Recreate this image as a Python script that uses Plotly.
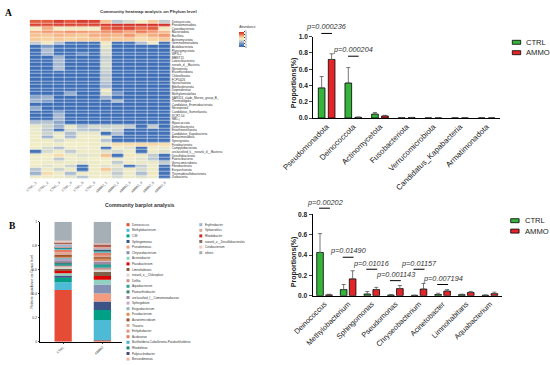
import plotly.graph_objects as go
import numpy as np

W, H = 550, 365
FONT = "Liberation Sans, Arial, sans-serif"


def fx(x):
    return x / W


def fy(y):
    return 1 - y / H


# ---------------- Panel A: heatmap data ----------------
heat_cols = ["CTRL_1", "CTRL_2", "CTRL_3", "CTRL_4", "CTRL_5", "CTRL_6",
             "AMMO_1", "AMMO_2", "AMMO_3", "AMMO_4", "AMMO_5", "AMMO_6"]
heat_rows = [
    "Deinococcota", "Pseudomonadota", "Cyanobacteriota", "Bacteroidota", "Bacillota",
    "Actinomycetota", "Gemmatimonadota", "Acidobacteriota", "Planctomycetota", "WPS-2",
    "MBNT15", "Latescibacterota", "norank_d__Bacteria", "Nitrospirota", "Elusimicrobiota",
    "Chloroflexota", "FCPU426", "Spirochaetota", "Bdellovibrionota", "Dependentiae",
    "Methylomirabilota", "SAR324_clade_Marine_group_B_", "Thermotogota",
    "Candidatus_Eremiobacteriota", "Nitrospinota", "Candidatus_Sumerlaeota", "RCP2-54",
    "NB1-j", "Myxococcota", "Deferribacterota", "Entotheonellaeota",
    "Candidatus_Kapabacteria", "Armatimonadota", "Synergistota", "Fusobacteriota",
    "Campylobacterota", "unclassified_k__norank_d__Bacteria", "Desulfobacterota",
    "Patescibacteria", "Verrucomicrobiota", "Fibrobacterota", "Euryarchaeota",
    "Thermodesulfobacteriota", "Zixibacteria",
]
heat_vals = [
    [4.4, 4.4, 4.8, 4.5, 4.8, 4.7, 3.4, 1.9, 2.2, 2.7, 3.3, 2.0],
    [4.7, 4.6, 4.7, 4.7, 4.6, 4.7, 4.8, 4.9, 4.9, 4.9, 4.9, 4.9],
    [2.7, 3.6, 2.7, 2.8, 2.8, 2.7, 4.3, 4.6, 4.6, 4.2, 4.4, 2.8],
    [3.6, 3.8, 3.7, 3.9, 3.8, 3.7, 3.9, 4.0, 3.7, 4.1, 3.8, 3.5],
    [3.4, 3.3, 3.5, 3.4, 3.3, 3.6, 3.6, 3.5, 3.8, 3.3, 3.6, 3.8],
    [3.3, 3.2, 3.3, 3.2, 3.3, 3.3, 3.4, 3.3, 3.3, 3.0, 3.2, 3.3],
    [2.0, 2.8, 1.8, 0.4, 0.3, 0.3, 2.8, 0.3, 0.4, 1.8, 2.6, 0.3],
    [0.2, 1.2, 0.3, 0.2, 0.2, 0.2, 2.4, 0.1, 0.1, 0.2, 0.2, 0.1],
    [0.1, 1.8, 0.2, 0.1, 0.1, 0.1, 2.2, 0.1, 0.1, 0.1, 0.1, 0.1],
    [0.1, 1.6, 0.1, 0.1, 1.0, 0.1, 2.2, 0.1, 0.1, 0.1, 0.1, 0.1],
    [0.1, 0.1, 1.6, 0.1, 0.1, 0.1, 2.0, 0.1, 0.1, 0.1, 0.1, 0.1],
    [0.1, 0.1, 1.7, 0.1, 0.1, 0.1, 2.1, 0.1, 0.1, 0.1, 0.1, 0.1],
    [0.1, 0.1, 1.7, 0.1, 0.1, 0.1, 2.2, 0.1, 0.1, 0.1, 0.1, 0.1],
    [0.1, 0.1, 1.8, 0.1, 0.1, 0.1, 2.1, 0.1, 0.1, 0.1, 0.1, 0.1],
    [0.1, 0.1, 0.3, 0.1, 0.1, 0.1, 2.0, 0.1, 0.1, 0.1, 0.1, 0.1],
    [0.1, 0.1, 0.1, 0.1, 0.1, 0.1, 1.9, 0.1, 0.1, 0.1, 0.1, 0.1],
    [0.1, 0.1, 0.1, 0.1, 0.1, 0.1, 2.0, 0.1, 0.1, 0.1, 0.1, 0.1],
    [0.1, 0.1, 0.1, 0.1, 0.1, 0.1, 1.8, 0.1, 0.1, 0.1, 0.1, 0.1],
    [0.1, 0.1, 0.1, 0.1, 0.1, 0.1, 1.7, 0.1, 0.1, 0.1, 0.1, 0.1],
    [0.1, 0.1, 0.1, 0.1, 0.1, 0.1, 2.8, 0.1, 0.1, 0.1, 0.1, 0.1],
    [0.1, 0.1, 0.1, 1.5, 0.1, 0.1, 2.3, 1.2, 0.1, 0.1, 0.1, 0.1],
    [1.4, 1.6, 0.1, 0.1, 0.1, 0.1, 1.6, 0.2, 0.1, 0.1, 0.1, 0.1],
    [1.6, 1.2, 0.1, 0.1, 0.1, 0.1, 0.3, 1.8, 0.1, 0.1, 0.1, 0.1],
    [0.1, 0.1, 0.1, 0.1, 0.1, 0.1, 0.1, 0.1, 0.1, 0.1, 0.1, 0.1],
    [1.5, 0.1, 0.1, 0.1, 0.1, 0.1, 0.1, 0.1, 0.1, 0.1, 0.1, 0.1],
    [0.1, 0.1, 1.3, 0.1, 0.1, 0.1, 0.1, 0.1, 0.1, 0.1, 0.1, 0.1],
    [0.1, 0.1, 1.7, 0.1, 0.1, 0.1, 0.1, 0.1, 0.1, 0.1, 0.1, 0.1],
    [0.1, 0.1, 1.6, 0.1, 0.1, 0.1, 0.1, 0.1, 0.1, 0.1, 0.1, 0.1],
    [1.8, 1.9, 1.4, 0.1, 0.1, 0.1, 0.2, 0.1, 0.1, 0.1, 0.1, 0.1],
    [2.5, 2.1, 1.6, 2.5, 1.9, 2.2, 2.1, 2.2, 2.0, 0.3, 2.0, 0.2],
    [2.5, 1.9, 0.3, 2.2, 1.9, 1.8, 2.2, 2.0, 0.2, 0.2, 0.2, 0.2],
    [2.6, 2.1, 2.5, 1.8, 2.5, 2.5, 0.3, 1.8, 0.2, 0.2, 0.2, 0.2],
    [2.6, 1.6, 2.6, 1.7, 2.6, 2.6, 2.5, 0.3, 0.2, 0.2, 0.2, 0.2],
    [2.6, 2.6, 2.2, 2.6, 2.6, 2.6, 1.9, 0.2, 0.2, 0.2, 0.2, 0.2],
    [2.7, 2.6, 2.6, 2.7, 2.7, 2.6, 2.6, 3.0, 3.0, 3.1, 3.1, 3.0],
    [2.6, 2.2, 1.8, 2.6, 2.5, 2.6, 0.4, 2.6, 2.3, 0.3, 2.6, 2.5],
    [0.4, 2.2, 2.6, 2.0, 2.6, 2.6, 2.3, 2.2, 2.6, 0.4, 2.6, 2.3],
    [2.6, 2.7, 3.0, 2.6, 2.3, 2.5, 3.4, 0.4, 2.8, 2.5, 2.0, 0.3],
    [2.6, 2.6, 1.9, 2.6, 2.6, 2.7, 2.6, 2.6, 2.6, 2.3, 1.9, 0.3],
    [2.7, 2.6, 2.5, 2.6, 2.4, 2.6, 2.7, 2.0, 2.6, 2.5, 2.5, 2.0],
    [2.6, 2.3, 2.6, 2.1, 0.4, 2.6, 2.3, 2.4, 0.4, 2.0, 2.6, 0.3],
    [1.9, 2.6, 2.1, 2.6, 0.5, 2.6, 3.3, 2.2, 2.6, 2.2, 2.6, 0.3],
    [1.6, 3.0, 2.6, 1.8, 2.6, 2.6, 2.6, 2.0, 2.6, 1.8, 2.8, 0.3],
    [2.6, 2.6, 2.6, 2.4, 1.9, 2.6, 2.6, 2.2, 2.6, 2.3, 2.6, 0.4],
]
heat_ticks = [0, 1, 2, 3, 4, 5]

# ---------------- Panel A: phylum bar data ----------------
phylum_cats = ["Pseudomonadota", "Deinococcota", "Actinomycetota", "Fusobacteriota",
               "Verrucomicrobiota", "Candidatus_Kapabacteria", "Armatimonadota"]
phylum_ctrl = [0.37, 0.43, 0.048, 0.002, 0.001, 0.0005, 0.0005]
phylum_ctrl_err = [0.14, 0.19, 0.02, 0.001, 0.001, 0.0005, 0.0005]
phylum_ammo = [0.72, 0.008, 0.025, 0.005, 0.0005, 0.0003, 0.0003]
phylum_ammo_err = [0.07, 0.004, 0.008, 0.003, 0.0005, 0.0003, 0.0003]
phylum_p_text = ["p=0.000236", "p=0.000204"]
phylum_p_cat = [0, 1]

# ---------------- Panel B: genus stacked bar data ----------------
stack_samples = ["CTRL", "AMMO"]
genus_names = [
    "Deinococcus", "Methylobacterium", "C39", "Sphingomonas", "Pseudomonas",
    "Chryseobacterium", "Acinetobacter", "Flavobacterium", "Limnohabitans",
    "norank_o__Chloroplast", "Delftia", "Aquabacterium", "Paenarthrobacter",
    "unclassified_f__Comamonadaceae", "Sphingobium", "Exiguobacterium", "Fusobacterium",
    "Aurantimicrobium", "Thauera", "Enhydrobacter", "Acidovorax",
    "Burkholderia-Caballeronia-Paraburkholderia", "Rhodoferax", "Polynucleobacter",
    "Brevundimonas", "Erythrobacter", "Sphaerotilus", "Rhodobacter",
    "norank_o__Desulfobacterales", "Cetobacterium", "others",
]
genus_ctrl = [0.43, 0.065, 0.04, 0.015, 0.005, 0.003, 0.012, 0.025, 0.01, 0.02,
              0.012, 0.008, 0.02, 0.015, 0.01, 0.015, 0.01, 0.012, 0.015, 0.01,
              0.015, 0.01, 0.008, 0.006, 0.008, 0.01, 0.008, 0.006, 0.01, 0.008, 0.159]
genus_ammo = [0.01, 0.17, 0.085, 0.07, 0.067, 0.075, 0.04, 0.03, 0.035, 0.02,
              0.015, 0.025, 0.005, 0.02, 0.01, 0.005, 0.012, 0.01, 0.02, 0.008,
              0.01, 0.008, 0.01, 0.008, 0.006, 0.006, 0.015, 0.006, 0.012, 0.006, 0.181]
genus_colors = [
    "#e64b35", "#4dbbd5", "#00a087", "#3c5488", "#f39b7f", "#8491b4", "#91d1c2",
    "#dc0000", "#7e6148", "#d9d4cc", "#c9918c", "#2aa198", "#3f7f78", "#9e8a9e",
    "#c8a8cf", "#8fb3c7", "#e08c50", "#a0522d", "#d9aa9c", "#e8907a", "#e57b62",
    "#4ab0c8", "#19877a", "#4d4a73", "#f5b7a3", "#9bb3d4", "#d7ab9c", "#c9302c",
    "#8b6f66", "#f2c9bd", "#a6aeb6",
]

# ---------------- Panel B: genus bar data ----------------
genus_cats = ["Deinococcus", "Methylobacterium", "Sphingomonas", "Pseudomonas",
              "Chryseobacterium", "Acinetobacter", "Limnohabitans", "Aquabacterium"]
gen_ctrl = [0.425, 0.06, 0.016, 0.006, 0.003, 0.012, 0.01, 0.004]
gen_ctrl_err = [0.185, 0.05, 0.025, 0.004, 0.002, 0.012, 0.005, 0.003]
gen_ammo = [0.008, 0.165, 0.06, 0.07, 0.065, 0.045, 0.032, 0.02]
gen_ammo_err = [0.006, 0.08, 0.022, 0.03, 0.055, 0.015, 0.01, 0.015]
gen_p_text = ["p=0.00202", "p=0.01490", "p=0.01016", "p=0.001143", "p=0.01157", "p=0.007194"]
gen_p_cat = [0, 1, 2, 3, 4, 5]

# ---------------- layout constants ----------------
GREEN = "#35b33a"
RED = "#e5242a"

HM_X = (29.7, 170.7)
HM_Y = (179.0, 19.7)
A_X = (313.3, 500.0)
A_Y = (118.0, 36.7)
A_YMAX = 1.0
S_X = (40.0, 122.0)
S_Y = (341.7, 221.7)
B_X = (312.7, 501.7)
B_Y = (295.7, 214.3)
B_YMAX = 0.8

phylum_p_text_y = [1.13, 0.84]
phylum_p_line_y = [1.04, 0.76]
gen_p_text_y = [0.92, 0.44, 0.32, 0.205, 0.32, 0.17]
gen_p_line_y = [0.86, 0.378, 0.26, 0.148, 0.26, 0.11]

fig = go.Figure()

# heatmap
colorscale = [
    [0.0, "#3b6cb4"], [0.12, "#4a78ba"], [0.25, "#7f9dc8"], [0.36, "#aebdd0"],
    [0.46, "#dfe1cb"], [0.54, "#f1edc4"], [0.64, "#f7d3a0"], [0.74, "#f3a57a"],
    [0.87, "#e6603e"], [1.0, "#cf2a26"],
]
fig.add_trace(go.Heatmap(
    z=heat_vals, x=list(range(len(heat_cols))), y=list(range(len(heat_rows))),
    zmin=0, zmax=5, colorscale=colorscale, xgap=0.5, ygap=0.5,
    xaxis="x", yaxis="y", hoverinfo="skip",
    colorbar=dict(
        x=fx(239.3), xanchor="left", y=fy(34.7), yanchor="middle",
        len=24, lenmode="pixels", thickness=4.5, outlinewidth=0,
        xpad=0, ypad=0, tickvals=heat_ticks, ticklen=1, tickwidth=0.4,
        ticks="outside", tickfont=dict(size=3, family=FONT, color="#444"),
        title=dict(text="Abundance", side="top", font=dict(size=3.2, family=FONT, color="#333")),
    ),
))

# phylum bars
xa = list(range(len(phylum_cats)))
fig.add_trace(go.Bar(
    x=xa, y=phylum_ctrl, width=0.25, offset=-0.3125, marker=dict(color=GREEN, line=dict(color="black", width=0.8)),
    error_y=dict(type="data", array=phylum_ctrl_err, arrayminus=[0] * len(xa), symmetric=False,
                 color="#555", thickness=0.8, width=2),
    xaxis="x2", yaxis="y2", showlegend=False, name="CTRL"))
fig.add_trace(go.Bar(
    x=xa, y=phylum_ammo, width=0.25, offset=0.0625, marker=dict(color=RED, line=dict(color="black", width=0.8)),
    error_y=dict(type="data", array=phylum_ammo_err, arrayminus=[0] * len(xa), symmetric=False,
                 color="#555", thickness=0.8, width=2),
    xaxis="x2", yaxis="y2", showlegend=False, name="AMMO"))

# stacked genus bar
cum_c = np.cumsum(genus_ctrl) - np.array(genus_ctrl)
cum_a = np.cumsum(genus_ammo) - np.array(genus_ammo)
for i, g in enumerate(genus_names):
    fig.add_trace(go.Bar(
        x=[0, 1], y=[genus_ctrl[i], genus_ammo[i]], base=[cum_c[i], cum_a[i]],
        width=0.44, marker=dict(color=genus_colors[i], line=dict(width=0)),
        xaxis="x3", yaxis="y3", showlegend=False, name=g))

# genus bars
xb = list(range(len(genus_cats)))
fig.add_trace(go.Bar(
    x=xb, y=gen_ctrl, width=0.28, offset=-0.33, marker=dict(color=GREEN, line=dict(color="black", width=0.8)),
    error_y=dict(type="data", array=gen_ctrl_err, arrayminus=[0] * len(xb), symmetric=False,
                 color="#555", thickness=0.8, width=2),
    xaxis="x4", yaxis="y4", showlegend=False, name="CTRL"))
fig.add_trace(go.Bar(
    x=xb, y=gen_ammo, width=0.28, offset=0.05, marker=dict(color=RED, line=dict(color="black", width=0.8)),
    error_y=dict(type="data", array=gen_ammo_err, arrayminus=[0] * len(xb), symmetric=False,
                 color="#555", thickness=0.8, width=2),
    xaxis="x4", yaxis="y4", showlegend=False, name="AMMO"))

annotations = []
shapes = []


def ann(x, y, text, size, **kw):
    fam = kw.pop("family", FONT)
    colr = kw.pop("color", "#222")
    d = dict(x=x, y=y, xref="paper", yref="paper", text=text, showarrow=False,
             xanchor="center", yanchor="middle",
             borderpad=0, font=dict(size=size, family=fam, color=colr))
    d.update(kw)
    annotations.append(d)


# panel letters & titles
ann(fx(8.5), fy(12.5), "<b>A</b>", 9.5, family="Liberation Serif, Times New Roman, serif", color="black")
ann(fx(12), fy(226), "<b>B</b>", 9.5, family="Liberation Serif, Times New Roman, serif", color="black")
ann(fx(148), fy(12), "<b>Community heatmap analysis on Phylum level</b>", 4.4, color="#333")
ann(fx(140), fy(205), "<b>Community barplot analysis</b>", 5.2, color="#333")
ann(fx(31.5), fy(282), "Relative abundance on Genus level", 3.4, textangle=-90, color="#333")
ann(fx(293.5), fy(82.7), "<b>Proportions(%)</b>", 7, textangle=-90, color="#222")
ann(fx(293.5), fy(261.7), "<b>Proportions(%)</b>", 7, textangle=-90, color="#222")


def a_px(c):
    return A_X[0] + (c + 0.5) * (A_X[1] - A_X[0]) / len(phylum_cats)


def a_py(v):
    return A_Y[0] - v * (A_Y[0] - A_Y[1]) / A_YMAX


def b_px(c):
    return B_X[0] + (c + 0.5) * (B_X[1] - B_X[0]) / len(genus_cats)


def b_py(v):
    return B_Y[0] - v * (B_Y[0] - B_Y[1]) / B_YMAX


# p-values
for t, c, ty, ly in zip(phylum_p_text, phylum_p_cat, phylum_p_text_y, phylum_p_line_y):
    ann(fx(a_px(c)), fy(a_py(ty)), "<i>" + t + "</i>", 7.3, color="#333")
    shapes.append(dict(type="line", xref="paper", yref="paper",
                       x0=fx(a_px(c - 0.2)), x1=fx(a_px(c + 0.2)), y0=fy(a_py(ly)), y1=fy(a_py(ly)),
                       line=dict(color="black", width=1)))
for t, c, ty, ly in zip(gen_p_text, gen_p_cat, gen_p_text_y, gen_p_line_y):
    ann(fx(b_px(c)), fy(b_py(ty)), "<i>" + t + "</i>", 7.3, color="#333")
    shapes.append(dict(type="line", xref="paper", yref="paper",
                       x0=fx(b_px(c - 0.23)), x1=fx(b_px(c + 0.23)), y0=fy(b_py(ly)), y1=fy(b_py(ly)),
                       line=dict(color="black", width=1)))

# CTRL/AMMO legends
for (lx, ly0) in [(512.3, 42.3), (510.7, 220.7)]:
    for k, (lab, col) in enumerate([("CTRL", GREEN), ("AMMO", RED)]):
        yy = ly0 + k * 10.4
        shapes.append(dict(type="rect", xref="paper", yref="paper",
                           x0=fx(lx), x1=fx(lx + 8.4), y0=fy(yy - 2), y1=fy(yy + 2),
                           fillcolor=col, line=dict(color="black", width=0.8)))
        ann(fx(lx + 13), fy(yy), lab, 7.6, xanchor="left", color="#222")

# genus legend (two columns)
for i, g in enumerate(genus_names):
    col = 0 if i < 25 else 1
    row = i if i < 25 else i - 25
    sx = 126.5 if col == 0 else 199.3
    sy = 224.7 + row * 5.6
    shapes.append(dict(type="rect", xref="paper", yref="paper",
                       x0=fx(sx), x1=fx(sx + 3), y0=fy(sy - 1.5), y1=fy(sy + 1.5),
                       fillcolor=genus_colors[i], line=dict(width=0)))
    ann(fx(sx + 4.3), fy(sy), g, 3.0, xanchor="left", color="#333")

axis_common = dict(showgrid=False, zeroline=False, automargin=False)

fig.update_layout(
    template="none",
    width=W, height=H, autosize=False,
    margin=dict(l=0, r=0, t=0, b=0, pad=0, autoexpand=False),
    paper_bgcolor="white", plot_bgcolor="white", barmode="overlay",
    font=dict(family=FONT, color="#222"),
    xaxis=dict(domain=[fx(HM_X[0]), fx(HM_X[1])], range=[-0.5, 11.5], anchor="y",
               tickvals=list(range(len(heat_cols))), ticktext=heat_cols, tickangle=-45,
               tickfont=dict(size=3.4, color="#444"), ticks="", showline=False, **axis_common),
    yaxis=dict(domain=[fy(HM_Y[0]), fy(HM_Y[1])], range=[len(heat_rows) - 0.5, -0.5], anchor="x",
               side="right", tickvals=list(range(len(heat_rows))), ticktext=heat_rows,
               tickfont=dict(size=3.1, color="#333"), ticks="", showline=False, **axis_common),
    xaxis2=dict(domain=[fx(A_X[0]), fx(A_X[1])], range=[-0.5, len(phylum_cats) - 0.5], anchor="y2",
                tickvals=xa, ticktext=phylum_cats, tickangle=-45,
                tickfont=dict(size=7.8, color="#222"), ticks="", showline=True,
                linecolor="black", linewidth=1.3, **axis_common),
    yaxis2=dict(domain=[fy(A_Y[0]), fy(A_Y[1])], range=[0, A_YMAX], anchor="x2",
                dtick=0.2, tickformat=".1f", ticks="outside", ticklen=3, tickwidth=1.2,
                tickfont=dict(size=6.6, color="#222", weight="bold"), showline=True,
                linecolor="black", linewidth=1.3, **axis_common),
    xaxis3=dict(domain=[fx(S_X[0]), fx(S_X[1])], range=[-0.59, 1.5], anchor="y3",
                tickvals=[0, 1], ticktext=stack_samples, tickangle=-45,
                tickfont=dict(size=3.4, color="#333"), ticks="outside", ticklen=1.5, tickwidth=0.5,
                showline=True, linecolor="black", linewidth=0.6, **axis_common),
    yaxis3=dict(domain=[fy(S_Y[0]), fy(S_Y[1])], range=[0, 1], anchor="x3",
                tickvals=[0, 0.2, 0.4, 0.6, 0.8, 1], ticktext=["0", "0.2", "0.4", "0.6", "0.8", "1"],
                tickfont=dict(size=3.4, color="#333"), ticks="outside", ticklen=1.5, tickwidth=0.5,
                showline=True, linecolor="black", linewidth=0.6, **axis_common),
    xaxis4=dict(domain=[fx(B_X[0]), fx(B_X[1])], range=[-0.5, len(genus_cats) - 0.5], anchor="y4",
                tickvals=xb, ticktext=genus_cats, tickangle=-45,
                tickfont=dict(size=7.4, color="#222"), ticks="", showline=True,
                linecolor="black", linewidth=1.3, **axis_common),
    yaxis4=dict(domain=[fy(B_Y[0]), fy(B_Y[1])], range=[0, B_YMAX], anchor="x4",
                dtick=0.2, tickformat=".1f", ticks="outside", ticklen=3, tickwidth=1.2,
                tickfont=dict(size=6.6, color="#222", weight="bold"), showline=True,
                linecolor="black", linewidth=1.3, **axis_common),
    annotations=annotations, shapes=shapes,
)

fig.write_html(
    "out.html",
    config={"displayModeBar": False},
    post_script="document.body.style.margin='0';document.body.style.overflow='hidden';",
)
